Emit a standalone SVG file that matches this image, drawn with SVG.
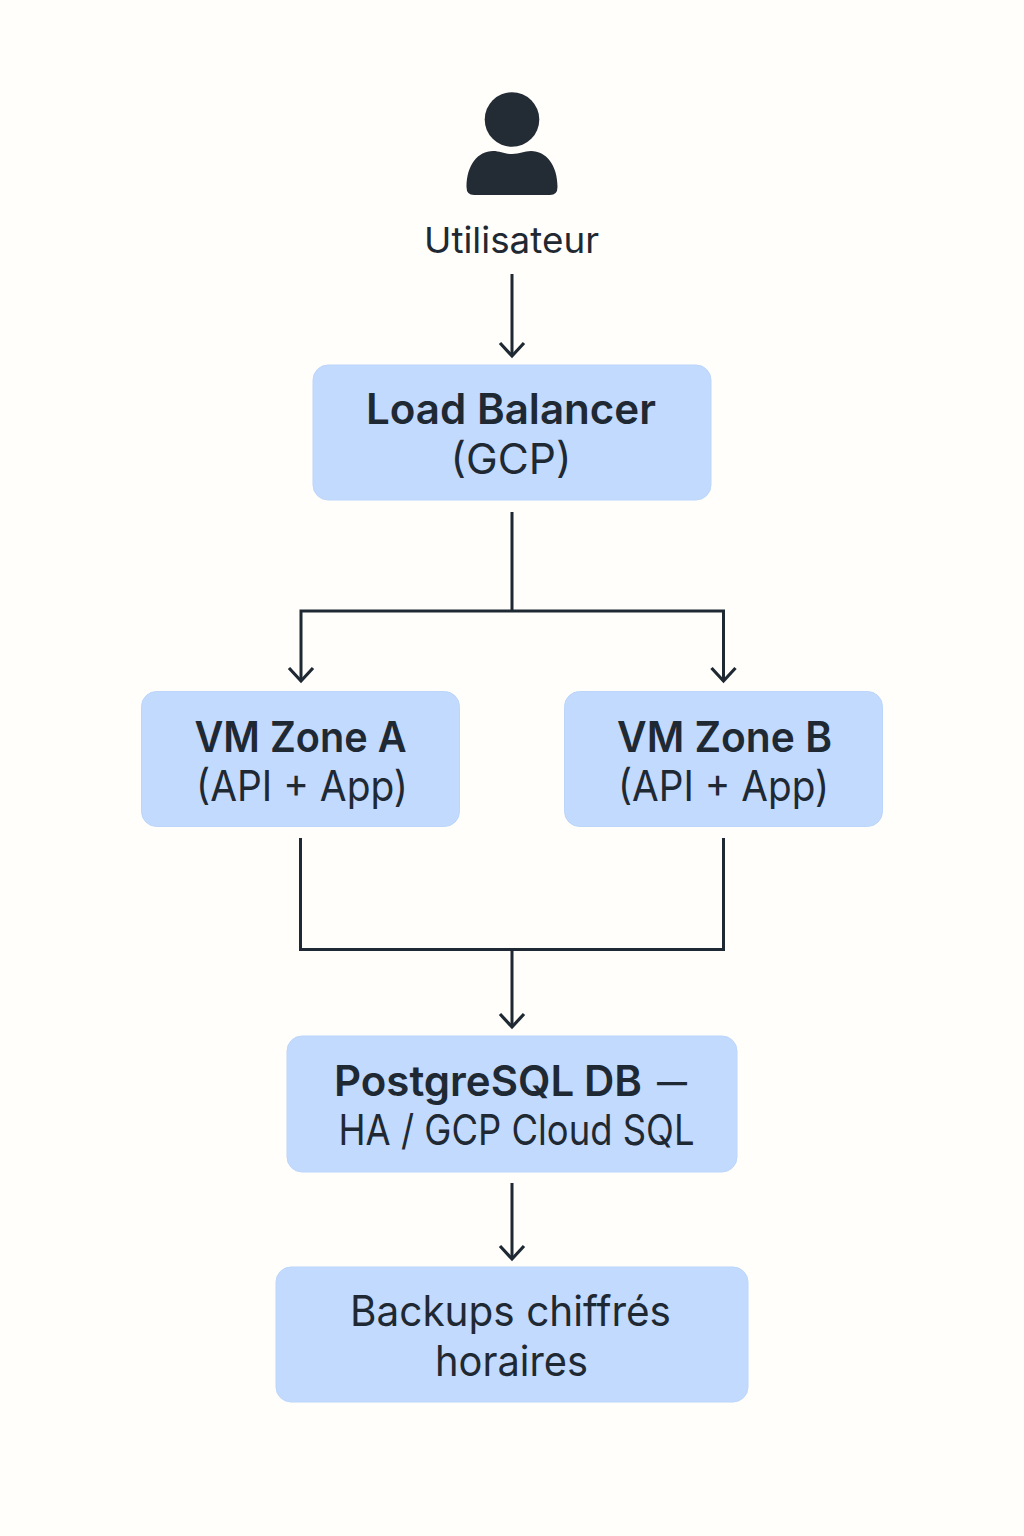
<svg xmlns="http://www.w3.org/2000/svg" width="1024" height="1536" viewBox="0 0 1024 1536">
<style>
.box{fill:#c2dafe;stroke:#bcd6fb;stroke-width:1}
.t{font-family:"Inter","Liberation Sans",sans-serif;font-size:42px;fill:#1f2933;text-anchor:middle}
.b{font-weight:600}
.s{text-anchor:start}
.c{fill:none;stroke:#1f2933;stroke-width:3}
</style>
<defs><marker id="a" markerUnits="userSpaceOnUse" markerWidth="30" markerHeight="30" refX="15" refY="15" orient="auto" viewBox="0 0 30 30"><path d="M2 3L15 15L2 27" fill="none" stroke="#1f2933" stroke-width="3.200"/></marker></defs>
<rect width="1024" height="1536" fill="#fffefa"/>
<g id="connectors">
<path class="c" d="M512 274V356" marker-end="url(#a)"/>
<path class="c" d="M512 512V611M512 611H301V681" marker-end="url(#a)"/>
<path class="c" d="M512 611H723.500V681" marker-end="url(#a)"/>
<path class="c" d="M300.500 838V949.500H723.500V838"/>
<path class="c" d="M512 949.500V1027" marker-end="url(#a)"/>
<path class="c" d="M512 1183V1259" marker-end="url(#a)"/>
</g>
<g id="user"><circle cx="512" cy="119.500" r="27.300" fill="#232c35"/><path d="M466.500 187C466.500 165 478 151 493 151C500 151 504 154 512 154C520 154 524 151 531 151C546 151 557.500 165 557.500 187Q557.500 195 550 195H474Q466.500 195 466.500 187Z" fill="#232c35"/><text class="t" x="511.500" y="253" style="font-size:36px" textLength="175" lengthAdjust="spacingAndGlyphs">Utilisateur</text></g>
<g id="lb"><rect class="box" x="313" y="365" width="398" height="135" rx="15"/><text class="t b" x="511" y="424" textLength="290" lengthAdjust="spacingAndGlyphs">Load Balancer</text><text class="t" x="511" y="474" textLength="121" lengthAdjust="spacingAndGlyphs">(GCP)</text></g>
<g id="vma"><rect class="box" x="141.500" y="691.500" width="318" height="135" rx="15"/><text class="t b" x="300.500" y="752" textLength="212" lengthAdjust="spacingAndGlyphs">VM Zone A</text><text class="t" x="302" y="801" textLength="212" lengthAdjust="spacingAndGlyphs">(API + App)</text></g>
<g id="vmb"><rect class="box" x="564.500" y="691.500" width="318" height="135" rx="15"/><text class="t b" x="724.500" y="752" textLength="215" lengthAdjust="spacingAndGlyphs">VM Zone B</text><text class="t" x="723.500" y="801" textLength="211" lengthAdjust="spacingAndGlyphs">(API + App)</text></g>
<g id="db"><rect class="box" x="287" y="1036" width="450" height="136" rx="15"/><text class="t b s" y="1096"><tspan x="334">PostgreSQL </tspan><tspan x="584">DB </tspan><tspan x="657" font-size="30" dy="-3">—</tspan></text><text class="t" x="516.500" y="1145" textLength="356" lengthAdjust="spacingAndGlyphs">HA / GCP Cloud SQL</text></g>
<g id="backup"><rect class="box" x="276" y="1267" width="472" height="135" rx="15"/><text class="t" x="510.500" y="1326" textLength="321" lengthAdjust="spacingAndGlyphs">Backups chiffrés</text><text class="t" x="511.500" y="1376" textLength="153" lengthAdjust="spacingAndGlyphs">horaires</text></g>
</svg>
